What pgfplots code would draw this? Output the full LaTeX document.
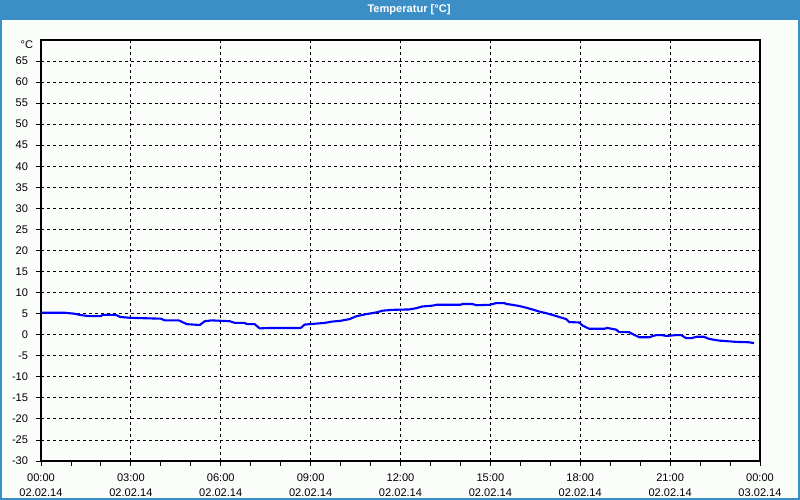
\documentclass[border=0pt]{standalone}
\usepackage{fontspec}
\setmainfont{Liberation Sans}
\usepackage{pgfplots}
\pgfplotsset{compat=1.18}
\definecolor{framebl}{HTML}{3C8FC6}
\definecolor{bgwhite}{HTML}{FBFDFB}
\definecolor{lineblue}{RGB}{0,0,255}

\begin{document}
\begin{tikzpicture}[x=1cm,y=1cm]
\useasboundingbox (0,0) rectangle (16,10);
% background, title bar and frame
\fill[bgwhite] (0,0) rectangle (16,10);
\fill[framebl] (0,9.59) rectangle (16,10);
\draw[framebl, line width=1.2pt] (0.02,0.02) rectangle (15.98,9.98);
\node[text=white, font=\bfseries\fontsize{6.3}{7.5}\selectfont] at (8.18,9.8) {Temperatur [°C]};

\begin{axis}[
    at={(0.82cm,0.78cm)}, anchor=south west,
    scale only axis,
    width=14.38cm, height=8.42cm,
    xmin=0, xmax=24, ymin=-30, ymax=70,
    xtick={0,3,...,24},
    minor x tick num=2,
    xticklabels={00:00\\02.02.14,03:00\\02.02.14,06:00\\02.02.14,09:00\\02.02.14,12:00\\02.02.14,15:00\\02.02.14,18:00\\02.02.14,21:00\\02.02.14,00:00\\03.02.14},
    ytick={-30,-25,...,65},
    extra y ticks={70},
    extra y tick labels={°C},
    extra y tick style={major tick length=0pt, grid=none, yticklabel style={yshift=-2.5pt}},
    tick align=outside,
    major tick length=0.1cm,
    minor tick length=0.1cm,
    xtick pos=bottom, ytick pos=left,
    tick style={black, line width=0.5pt},
    grid=major,
    major grid style={black, line width=0.5pt, dash pattern=on 1.7pt off 1.7pt},
    axis line style={black, line width=0.6pt},
    /pgf/number format/assume math mode=true,
    ticklabel style={font=\fontsize{6.3}{8.5}\selectfont},
    xticklabel style={align=center, yshift=-1pt},
    yticklabel style={xshift=-1pt},
    axis background/.style={fill=bgwhite},
]
\addplot[lineblue, line width=1.2pt] coordinates {
(0,5.2) (0.8,5.2) (1.1,5.0) (1.3,4.7) (1.6,4.4) (2.0,4.4) (2.05,4.7) (2.5,4.7)
(2.65,4.2) (3.0,4.0) (4.0,3.8) (4.13,3.4) (4.6,3.4) (4.87,2.5) (5.3,2.3) (5.47,3.2)
(5.7,3.4) (6.3,3.2) (6.47,2.8) (6.8,2.8) (6.87,2.5) (7.13,2.5) (7.3,1.5) (7.63,1.6)
(8.67,1.6) (8.8,2.4) (9.13,2.6) (9.47,2.8) (9.7,3.1) (10.0,3.3) (10.3,3.7) (10.53,4.4)
(10.87,4.9) (11.2,5.3) (11.4,5.7) (11.73,5.9) (12.3,6.0) (12.53,6.3) (12.73,6.7) (13.07,6.9)
(13.2,7.1) (14.0,7.1) (14.07,7.3) (14.4,7.3) (14.53,7.0) (14.97,7.1) (15.2,7.5) (15.47,7.5)
(15.53,7.3) (15.73,7.1) (15.97,6.8) (16.2,6.4) (16.4,6.0) (16.63,5.5) (16.87,5.1) (17.07,4.7)
(17.3,4.2) (17.53,3.7) (17.63,3.0) (17.97,2.9) (18.07,2.2) (18.3,1.4) (18.8,1.4) (18.9,1.6)
(19.2,1.2) (19.3,0.6) (19.63,0.6) (19.73,0.2) (19.97,-0.6) (20.3,-0.6) (20.53,-0.1) (20.73,-0.1)
(20.87,-0.3) (21.2,-0.1) (21.37,-0.1) (21.53,-0.8) (21.73,-0.8) (21.87,-0.5) (22.13,-0.5) (22.3,-1.0)
(22.63,-1.4) (23.2,-1.7) (23.63,-1.8) (23.8,-2.0)
};
\end{axis}
\end{tikzpicture}
\end{document}
